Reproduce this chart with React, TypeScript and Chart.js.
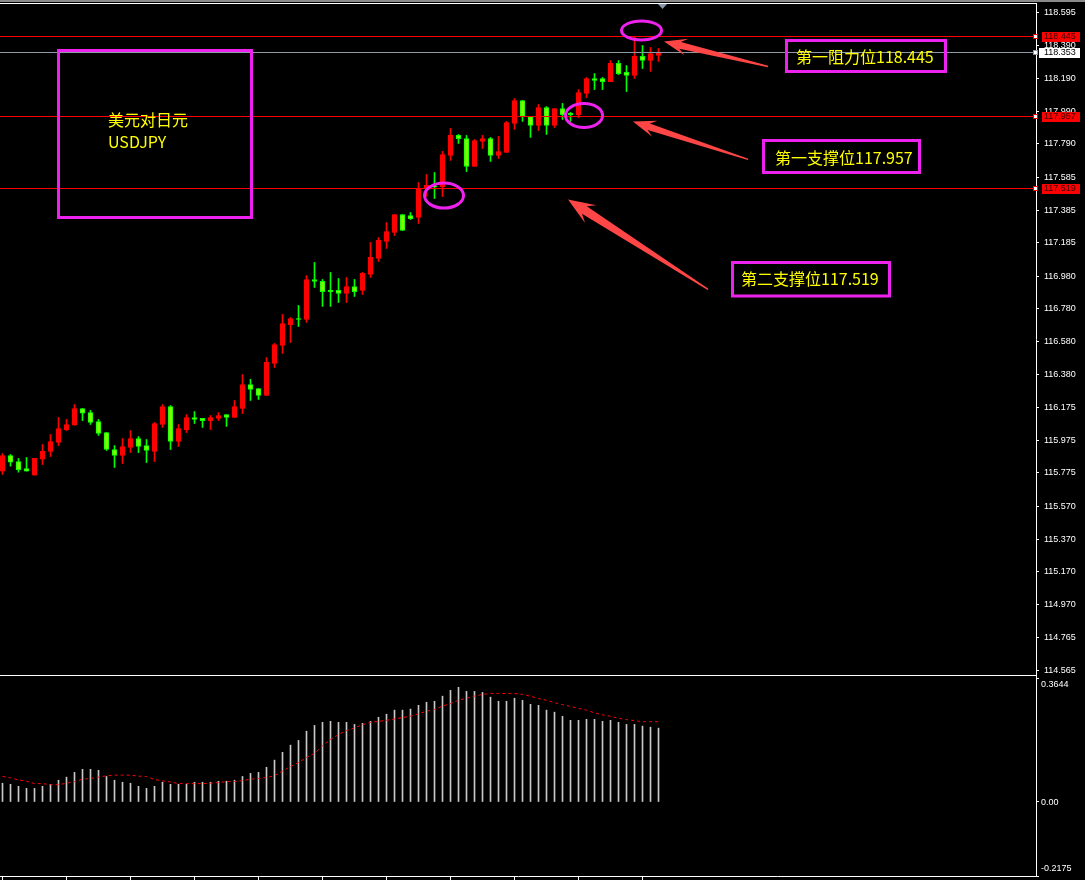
import React, { useEffect, useRef } from 'react';
import { Chart, registerables } from 'chart.js';

Chart.register(...registerables);

// ---------- Data (USDJPY candles) ----------
const OPEN = [
  115.786, 115.882, 115.845, 115.802, 115.761, 115.860, 115.907, 115.962, 116.041, 116.068,
  116.170, 116.145, 116.090, 116.023, 115.919, 115.882, 115.931, 115.986, 115.943, 115.907,
  116.072, 116.182, 115.968, 116.041, 116.115, 116.109, 116.096, 116.109, 116.133, 116.115,
  116.170, 116.317, 116.292, 116.250, 116.446, 116.556, 116.684, 116.721, 116.715, 116.960,
  116.948, 116.893, 116.893, 116.874, 116.917, 116.893, 116.991, 117.089, 117.193, 117.248,
  117.358, 117.352, 117.340, 117.517, 117.532, 117.529, 117.719, 117.842, 117.823, 117.652,
  117.805, 117.823, 117.719, 117.738, 117.915, 118.056, 117.958, 117.903, 118.013, 117.903,
  118.007, 117.977, 117.970, 118.099, 118.191, 118.191, 118.172, 118.283, 118.228, 118.209,
  118.326, 118.301, 118.332,
];
const HIGH = [
  115.894, 115.888, 115.864, 115.870, 115.864, 115.949, 116.011, 116.115, 116.103, 116.194,
  116.170, 116.158, 116.103, 116.023, 115.943, 115.986, 116.035, 115.998, 115.980, 116.084,
  116.194, 116.188, 116.072, 116.133, 116.151, 116.109, 116.127, 116.145, 116.133, 116.219,
  116.378, 116.348, 116.292, 116.482, 116.568, 116.746, 116.727, 116.801, 116.984, 117.064,
  116.960, 117.003, 116.966, 116.972, 116.960, 117.003, 117.187, 117.217, 117.309, 117.358,
  117.358, 117.370, 117.554, 117.603, 117.615, 117.744, 117.885, 117.848, 117.842, 117.817,
  117.842, 117.830, 117.836, 117.928, 118.068, 118.056, 117.958, 118.032, 118.019, 118.007,
  118.038, 117.983, 118.123, 118.197, 118.221, 118.197, 118.301, 118.301, 118.270, 118.448,
  118.393, 118.381, 118.375,
];
const LOW = [
  115.766, 115.817, 115.780, 115.786, 115.761, 115.827, 115.876, 115.943, 116.035, 116.068,
  116.096, 116.072, 116.005, 115.913, 115.809, 115.833, 115.900, 115.900, 115.839, 115.845,
  116.054, 115.919, 115.937, 116.023, 116.078, 116.054, 116.041, 116.096, 116.060, 116.115,
  116.139, 116.219, 116.225, 116.250, 116.421, 116.507, 116.574, 116.672, 116.697, 116.911,
  116.795, 116.795, 116.819, 116.819, 116.856, 116.868, 116.972, 117.070, 117.150, 117.229,
  117.260, 117.327, 117.303, 117.468, 117.456, 117.468, 117.689, 117.793, 117.621, 117.652,
  117.762, 117.683, 117.701, 117.738, 117.879, 117.928, 117.830, 117.872, 117.848, 117.891,
  117.940, 117.928, 117.952, 118.074, 118.123, 118.123, 118.172, 118.215, 118.111, 118.191,
  118.252, 118.234, 118.295,
];
const CLOSE = [
  115.882, 115.841, 115.796, 115.786, 115.864, 115.907, 115.968, 116.047, 116.072, 116.170,
  116.141, 116.084, 116.017, 115.919, 115.882, 115.937, 115.986, 115.937, 115.913, 116.078,
  116.182, 115.968, 116.047, 116.115, 116.103, 116.096, 116.115, 116.127, 116.115, 116.182,
  116.317, 116.286, 116.250, 116.452, 116.562, 116.690, 116.721, 116.715, 116.960, 116.948,
  116.886, 116.886, 116.874, 116.917, 116.886, 116.997, 117.095, 117.199, 117.254, 117.358,
  117.260, 117.333, 117.517, 117.536, 117.527, 117.725, 117.842, 117.823, 117.652, 117.811,
  117.823, 117.719, 117.744, 117.921, 118.056, 117.958, 117.903, 118.013, 117.903, 118.007,
  117.970, 117.970, 118.105, 118.191, 118.179, 118.172, 118.283, 118.221, 118.209, 118.326,
  118.301, 118.344, 118.353,
];

// MACD histogram and signal line
const MACD_HIST = [
  0.055, 0.052, 0.046, 0.040, 0.040, 0.046, 0.052, 0.064, 0.073, 0.087,
  0.096, 0.096, 0.093, 0.075, 0.064, 0.058, 0.055, 0.046, 0.040, 0.046,
  0.058, 0.052, 0.052, 0.052, 0.058, 0.058, 0.058, 0.061, 0.061, 0.064,
  0.075, 0.084, 0.087, 0.102, 0.123, 0.146, 0.167, 0.181, 0.208, 0.225,
  0.234, 0.237, 0.234, 0.234, 0.228, 0.231, 0.237, 0.249, 0.258, 0.270,
  0.270, 0.273, 0.284, 0.293, 0.296, 0.311, 0.328, 0.337, 0.325, 0.325,
  0.322, 0.308, 0.296, 0.296, 0.305, 0.299, 0.287, 0.284, 0.270, 0.264,
  0.252, 0.240, 0.240, 0.243, 0.243, 0.237, 0.240, 0.234, 0.228, 0.228,
  0.223, 0.220, 0.217,
];
const MACD_SIGNAL = [
  0.075, 0.071, 0.065, 0.061, 0.054, 0.054, 0.051, 0.051, 0.055, 0.060,
  0.067, 0.069, 0.073, 0.077, 0.079, 0.079, 0.079, 0.076, 0.075, 0.066,
  0.062, 0.059, 0.054, 0.054, 0.054, 0.054, 0.055, 0.057, 0.060, 0.060,
  0.063, 0.067, 0.069, 0.072, 0.077, 0.091, 0.104, 0.116, 0.131, 0.143,
  0.165, 0.184, 0.198, 0.210, 0.218, 0.227, 0.234, 0.237, 0.240, 0.244,
  0.248, 0.252, 0.259, 0.267, 0.272, 0.282, 0.289, 0.299, 0.305, 0.311,
  0.316, 0.319, 0.319, 0.319, 0.319, 0.316, 0.311, 0.304, 0.299, 0.292,
  0.286, 0.281, 0.275, 0.270, 0.262, 0.256, 0.252, 0.246, 0.242, 0.239,
  0.236, 0.236, 0.236,
];

// Axis tick labels
const PRICE_TICKS = [
  118.595, 118.390, 118.190, 117.990, 117.790, 117.585, 117.385, 117.185, 116.980, 116.780,
  116.580, 116.380, 116.175, 115.975, 115.775, 115.570, 115.370, 115.170, 114.970, 114.765, 114.565,
];
const PRICE_MAX = 118.647;
const PRICE_MIN = 114.544;
const MACD_MAX = 0.3644;
const MACD_MIN = -0.2175;

// Levels
const RESISTANCE_1 = 118.445;
const SUPPORT_1 = 117.957;
const SUPPORT_2 = 117.519;
const CURRENT_PRICE = 118.353;

// ---------- Layout ----------
const W = 1085;
const MAIN_H = 676;
const MACD_H = 204;
const AXIS_W = 49;
const X_MIN = -0.3125;
const X_MAX = X_MIN + (W - AXIS_W) / 8;

const UP_COLOR = '#ff0000';
const DOWN_BORDER = '#00ff00';
const DOWN_FILL = '#80ff00';
const MAGENTA = '#ee22ee';
const ARROW = '#ff4646';
const TEXT_YELLOW = '#ffff00';
const AXIS_FONT = '9px "Liberation Sans", Arial, sans-serif';
const CJK_FONT = '16px "Noto Sans CJK SC", "Noto Sans", sans-serif';

const isUp = (i: number) => CLOSE[i] >= OPEN[i];

function drawArrow(ctx: CanvasRenderingContext2D, tx: number, ty: number, sx: number, sy: number,
  headLen: number, headHalf: number, neckHalf: number) {
  const dx = tx - sx, dy = ty - sy;
  const len = Math.hypot(dx, dy);
  const ux = dx / len, uy = dy / len;
  const nx = -uy, ny = ux;
  const bx = tx - ux * headLen, by = ty - uy * headLen;
  const jx = tx - ux * headLen * 0.72, jy = ty - uy * headLen * 0.72;
  ctx.beginPath();
  ctx.moveTo(tx, ty);
  ctx.lineTo(bx + nx * headHalf, by + ny * headHalf);
  ctx.lineTo(jx + nx * neckHalf, jy + ny * neckHalf);
  ctx.lineTo(sx + nx * 0.7, sy + ny * 0.7);
  ctx.lineTo(sx - nx * 0.7, sy - ny * 0.7);
  ctx.lineTo(jx - nx * neckHalf, jy - ny * neckHalf);
  ctx.lineTo(bx - nx * headHalf, by - ny * headHalf);
  ctx.closePath();
  ctx.fill();
}

const mainDecor = {
  id: 'mainDecor',
  beforeDraw(chart: any) {
    const { ctx } = chart;
    ctx.save();
    ctx.fillStyle = '#000';
    ctx.fillRect(0, 0, chart.width, chart.height);
    ctx.restore();
  },
  afterDatasetsDraw(chart: any) {
    const { ctx, chartArea, scales } = chart;
    const y = scales.y;
    ctx.save();
    const hline = (v: number, color: string) => {
      const py = Math.floor(y.getPixelForValue(v)) + 0.5;
      ctx.strokeStyle = color;
      ctx.lineWidth = 1;
      ctx.beginPath();
      ctx.moveTo(chartArea.left, py);
      ctx.lineTo(chartArea.right, py);
      ctx.stroke();
    };
    hline(CURRENT_PRICE, '#8e9aa6');
    hline(RESISTANCE_1, '#ff0000');
    hline(SUPPORT_1, '#ff0000');
    hline(SUPPORT_2, '#ff0000');
    ctx.restore();
  },
  afterDraw(chart: any) {
    const { ctx, chartArea, scales } = chart;
    const x = scales.x, y = scales.y;
    const px = (i: number) => x.getPixelForValue(i);
    const py = (v: number) => y.getPixelForValue(v);
    ctx.save();

    // frame
    ctx.fillStyle = '#8a8a8a';
    ctx.fillRect(0, 0, W, 2);
    ctx.fillStyle = '#ffffff';
    ctx.fillRect(0, 3, chartArea.right + 1, 1);
    ctx.fillRect(0, 675, chartArea.right + 1, 1);

    // chart shift marker
    const mx = px(82.5);
    ctx.fillStyle = '#8899aa';
    ctx.beginPath();
    ctx.moveTo(mx - 4.5, 4);
    ctx.lineTo(mx + 4.5, 4);
    ctx.lineTo(mx, 9);
    ctx.closePath();
    ctx.fill();

    // ellipses
    ctx.strokeStyle = MAGENTA;
    ctx.lineWidth = 3;
    const ell = (i: number, v: number, rx: number, ry: number) => {
      ctx.beginPath();
      ctx.ellipse(px(i), py(v), rx, ry, 0, 0, Math.PI * 2);
      ctx.stroke();
    };
    ell(79.875, 118.485, 20, 9.5);
    ell(72.69, 117.964, 18.5, 12);
    ell(55.19, 117.474, 19.5, 12.5);

    // boxes
    ctx.strokeRect(58.5, 50.5, 193, 167);
    ctx.strokeRect(786.5, 40.5, 159, 31);
    ctx.strokeRect(763.5, 140.5, 156, 32);
    ctx.strokeRect(732.5, 262.5, 157, 33.5);

    // texts
    ctx.fillStyle = TEXT_YELLOW;
    ctx.font = CJK_FONT;
    ctx.textAlign = 'left';
    ctx.textBaseline = 'middle';
    ctx.fillText('美元对日元', 108, 120);
    ctx.fillText('USDJPY', 108, 142);
    ctx.fillText(`第一阻力位${RESISTANCE_1.toFixed(3)}`, 796, 57);
    ctx.fillText(`第一支撑位${SUPPORT_1.toFixed(3)}`, 775, 158);
    ctx.fillText(`第二支撑位${SUPPORT_2.toFixed(3)}`, 741, 279);

    // arrows
    ctx.fillStyle = ARROW;
    drawArrow(ctx, px(82.69), py(118.417), px(95.69), py(118.264), 23, 8.5, 3.4);
    drawArrow(ctx, px(78.81), py(117.927), px(93.19), py(117.695), 23, 8.5, 3.4);
    drawArrow(ctx, px(70.69), py(117.450), px(88.19), py(116.899), 27, 10.5, 4.4);

    // price boxes on axis
    const box = (v: number, bg: string, fg: string, x0: number) => {
      const cy = Math.floor(py(v)) + 0.5;
      ctx.fillStyle = bg;
      ctx.fillRect(x0, Math.round(cy - 5), 1080 - x0, 10);
      ctx.fillStyle = fg;
      ctx.font = AXIS_FONT;
      ctx.textBaseline = 'middle';
      ctx.fillText(v.toFixed(3), 1044, cy + 0.5);
      // small marker on the axis line
      ctx.fillStyle = bg === '#ffffff' ? '#8e9aa6' : '#ff0000';
      ctx.fillRect(chartArea.right - 3, Math.round(cy - 2.5), 5, 5);
      ctx.fillStyle = '#ffffff';
      ctx.fillRect(chartArea.right - 2, Math.round(cy - 1.5), 3, 3);
    };
    box(RESISTANCE_1, '#ff0000', '#3b0000', 1042);
    box(CURRENT_PRICE, '#ffffff', '#000000', 1039);
    box(SUPPORT_1, '#ff0000', '#3b0000', 1042);
    box(SUPPORT_2, '#ff0000', '#3b0000', 1042);

    ctx.restore();
  },
};

const macdDecor = {
  id: 'macdDecor',
  beforeDraw(chart: any) {
    const { ctx } = chart;
    ctx.save();
    ctx.fillStyle = '#000';
    ctx.fillRect(0, 0, chart.width, chart.height);
    ctx.restore();
  },
  afterDraw(chart: any) {
    const { ctx, chartArea, scales } = chart;
    const y = scales.y;
    ctx.save();
    ctx.fillStyle = '#ffffff';
    ctx.fillRect(chartArea.right, 0, 1, chartArea.bottom);
    ctx.font = AXIS_FONT;
    ctx.textAlign = 'left';
    ctx.textBaseline = 'middle';
    const lx = chartArea.right + 5;
    ctx.fillText(MACD_MAX.toFixed(4), lx, y.getPixelForValue(MACD_MAX) + 7);
    ctx.fillText((0).toFixed(2), lx, y.getPixelForValue(0) + 0.5);
    ctx.fillText(MACD_MIN.toFixed(4), lx, y.getPixelForValue(MACD_MIN) - 7);
    ctx.restore();
  },
};

export default function App() {
  const mainRef = useRef<HTMLCanvasElement>(null);
  const macdRef = useRef<HTMLCanvasElement>(null);

  useEffect(() => {
    document.body.style.margin = '0';
    document.body.style.background = '#000';

    const idx = OPEN.map((_, i) => i);
    const wickColors = idx.map((i) => (isUp(i) ? UP_COLOR : DOWN_BORDER));
    const bodyFill = idx.map((i) => (isUp(i) ? UP_COLOR : DOWN_FILL));
    const bodyBorder = idx.map((i) => (isUp(i) ? UP_COLOR : DOWN_BORDER));

    const main = new Chart(mainRef.current as HTMLCanvasElement, {
      type: 'bar',
      data: {
        datasets: [
          {
            label: 'wick',
            data: idx.map((i) => ({ x: i, y: [LOW[i], HIGH[i]] })) as any,
            backgroundColor: wickColors,
            borderWidth: 0,
            barThickness: 1,
            grouped: false,
            order: 2,
          } as any,
          {
            label: 'body',
            data: idx.map((i) => ({ x: i, y: [OPEN[i], CLOSE[i]] })) as any,
            backgroundColor: bodyFill,
            borderColor: bodyBorder,
            borderWidth: 1,
            borderSkipped: false,
            barThickness: 5,
            minBarLength: 1,
            grouped: false,
            order: 1,
          } as any,
        ],
      },
      options: {
        responsive: false,
        devicePixelRatio: 1,
        animation: false,
        events: [],
        layout: { padding: { top: 4, bottom: 2, left: 0, right: 0 } },
        plugins: { legend: { display: false }, tooltip: { enabled: false } },
        scales: {
          x: {
            type: 'linear',
            min: X_MIN,
            max: X_MAX,
            offset: false,
            display: false,
            grid: { offset: false },
          },
          y: {
            type: 'linear',
            position: 'right',
            min: PRICE_MIN,
            max: PRICE_MAX,
            beginAtZero: false,
            afterBuildTicks: (scale: any) => {
              scale.ticks = PRICE_TICKS.map((v) => ({ value: v }));
            },
            afterFit: (scale: any) => {
              scale.width = AXIS_W;
              scale.paddingTop = 0;
              scale.paddingBottom = 0;
            },
            ticks: {
              color: '#ffffff',
              font: { family: '"Liberation Sans", Arial, sans-serif', size: 9 },
              padding: 5,
              autoSkip: false,
              callback: (v: any) => Number(v).toFixed(3),
            },
            grid: { display: true, drawOnChartArea: false, drawTicks: true, tickLength: 3, color: '#ffffff' },
            border: { display: true, color: '#ffffff' },
          },
        },
      } as any,
      plugins: [mainDecor],
    });

    const macd = new Chart(macdRef.current as HTMLCanvasElement, {
      type: 'bar',
      data: {
        datasets: [
          {
            type: 'line',
            label: 'signal',
            data: idx.map((i) => ({ x: i, y: MACD_SIGNAL[i] })),
            borderColor: '#ff0000',
            borderWidth: 1,
            borderDash: [3, 3],
            pointRadius: 0,
            tension: 0,
            fill: false,
            order: 1,
          } as any,
          {
            type: 'bar',
            label: 'macd',
            data: idx.map((i) => ({ x: i, y: MACD_HIST[i] })),
            backgroundColor: '#c8c8c8',
            borderWidth: 0,
            barThickness: 1,
            grouped: false,
            order: 2,
          } as any,
        ],
      },
      options: {
        responsive: false,
        devicePixelRatio: 1,
        animation: false,
        events: [],
        layout: { padding: { top: 2, bottom: 0, left: 0, right: 0 } },
        plugins: { legend: { display: false }, tooltip: { enabled: false } },
        scales: {
          x: {
            type: 'linear',
            min: X_MIN,
            max: X_MAX,
            offset: false,
            position: 'bottom',
            afterBuildTicks: (scale: any) => {
              const t: { value: number }[] = [];
              for (let v = 0; v < OPEN.length; v += 8) t.push({ value: v });
              scale.ticks = t;
            },
            ticks: { display: false },
            grid: { offset: false, display: true, drawOnChartArea: false, drawTicks: true, tickLength: 4, color: '#ffffff' },
            border: { display: true, color: '#ffffff' },
          },
          y: {
            type: 'linear',
            position: 'right',
            min: MACD_MIN,
            max: MACD_MAX,
            beginAtZero: false,
            afterBuildTicks: (scale: any) => {
              scale.ticks = [{ value: MACD_MAX }, { value: 0 }, { value: MACD_MIN }];
            },
            afterFit: (scale: any) => {
              scale.width = AXIS_W;
              scale.paddingTop = 0;
              scale.paddingBottom = 0;
            },
            ticks: { display: false },
            grid: { display: true, drawOnChartArea: false, drawTicks: true, tickLength: 3, color: '#ffffff' },
            border: { display: true, color: '#ffffff' },
          },
        },
      } as any,
      plugins: [macdDecor],
    });

    return () => {
      main.destroy();
      macd.destroy();
    };
  }, []);

  return (
    <div style={{ position: 'absolute', left: 0, top: 0, width: W, height: MAIN_H + MACD_H, background: '#000', overflow: 'hidden' }}>
      <canvas
        ref={mainRef}
        width={W}
        height={MAIN_H}
        style={{ position: 'absolute', left: 0, top: 0, width: W, height: MAIN_H }}
      />
      <canvas
        ref={macdRef}
        width={W}
        height={MACD_H}
        style={{ position: 'absolute', left: 0, top: MAIN_H, width: W, height: MACD_H }}
      />
    </div>
  );
}
